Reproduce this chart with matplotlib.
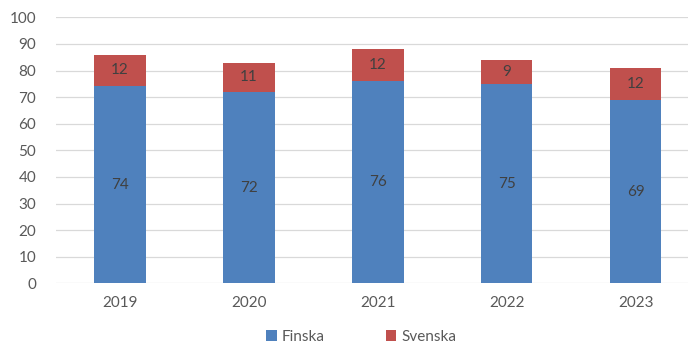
import matplotlib
matplotlib.use("Agg")
import matplotlib.pyplot as plt
from matplotlib.patches import Patch

years = ["2019", "2020", "2021", "2022", "2023"]
finska = [74, 72, 76, 75, 69]
svenska = [12, 11, 12, 9, 12]
series_names = ["Finska", "Svenska"]
yticks = list(range(0, 101, 10))

blue = "#4F81BD"
red = "#C0504D"

plt.rcParams["font.family"] = ["Lato", "DejaVu Sans"]

fig = plt.figure(figsize=(6.88, 3.49), dpi=100)
ax = fig.add_axes([55.5 / 688, (349 - 283.3) / 349, (700 - 55.5) / 688, (283.3 - 17.3) / 349])

x = range(len(years))
b1 = ax.bar(x, finska, width=0.40, color=blue, zorder=2)
b2 = ax.bar(x, svenska, bottom=finska, width=0.40, color=red, zorder=2)

for bars in (b1, b2):
    ax.bar_label(bars, labels=[str(int(b.get_height())) for b in bars],
                 label_type="center", color="#404040", fontsize=11)

ax.set_xlim(-0.5, len(years) - 0.5)
ax.set_ylim(0, 100)
ax.set_yticks(yticks)
ax.set_xticks(list(x))
ax.set_xticklabels(years)
ax.tick_params(axis="both", length=0, colors="#595959", labelsize=11)
ax.tick_params(axis="y", pad=14)
ax.tick_params(axis="x", pad=9)
ax.grid(axis="y", color="#D9D9D9", linewidth=0.9, zorder=0)
ax.set_axisbelow(True)
for s in ax.spines.values():
    s.set_visible(False)

handles = [Patch(facecolor=blue), Patch(facecolor=red)]
fig.legend(handles, series_names, loc="center", bbox_to_anchor=(0.525, 0.035),
           ncol=2, frameon=False, fontsize=11, labelcolor="#595959",
           handlelength=0.7, handleheight=0.7, handletextpad=0.3, columnspacing=4.0)

fig.savefig("out.png", dpi=100)
